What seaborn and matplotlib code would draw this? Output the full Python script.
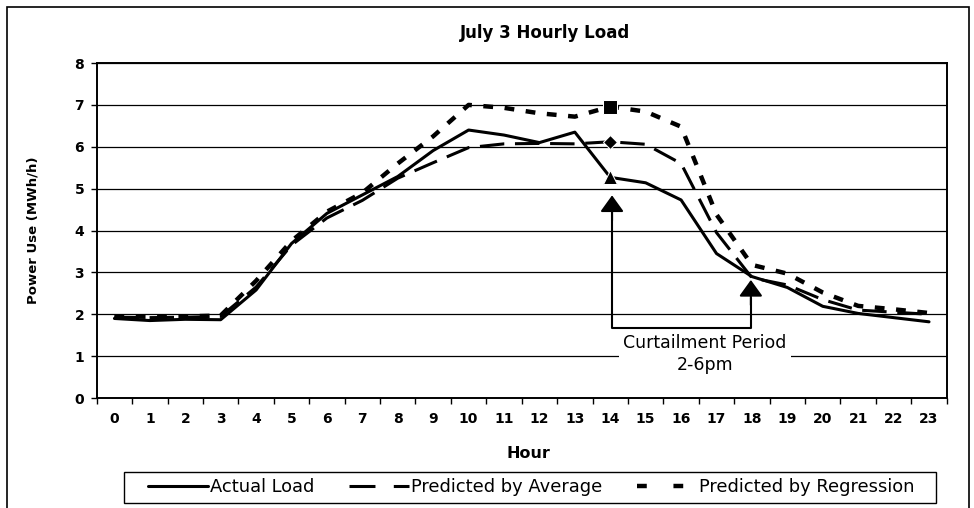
import numpy as np
import matplotlib
matplotlib.use("Agg")
import matplotlib.pyplot as plt
import seaborn as sns
from matplotlib.lines import Line2D
from matplotlib.patches import Rectangle

# hourly load, MWh/h
hours = list(range(24))
actual = [1.90, 1.85, 1.88, 1.87, 2.58, 3.69, 4.41, 4.85, 5.29, 5.91, 6.40, 6.28,
          6.10, 6.35, 5.27, 5.14, 4.73, 3.45, 2.90, 2.64, 2.19, 2.02, 1.92, 1.82]
average = [1.93, 1.92, 1.93, 1.95, 2.65, 3.65, 4.30, 4.72, 5.25, 5.62, 5.98, 6.07,
           6.08, 6.07, 6.12, 6.06, 5.60, 3.95, 2.87, 2.70, 2.35, 2.10, 2.05, 2.00]
regression = [1.95, 1.94, 1.95, 1.97, 2.80, 3.75, 4.45, 4.90, 5.60, 6.25, 7.00, 6.93,
              6.80, 6.72, 6.96, 6.84, 6.48, 4.38, 3.18, 2.97, 2.52, 2.20, 2.12, 2.03]
series_names = ["Actual Load", "Predicted by Average", "Predicted by Regression"]
hour_labels = [str(h) for h in hours]
y_ticks = list(range(9))

sns.set_theme(style="white")
plt.rcParams["font.family"] = ["DejaVu Sans"]
plt.rcParams["text.color"] = "black"
plt.rcParams["xtick.color"] = "black"
plt.rcParams["ytick.color"] = "black"
plt.rcParams["axes.labelcolor"] = "black"

fig = plt.figure(figsize=(9.74, 5.08), dpi=100)
ax = fig.add_axes([0.0993, 0.2165, 0.8727, 0.6594])

# ------------------ lines ------------------
sns.lineplot(x=hours, y=actual, ax=ax, color="black", lw=2.2,
             marker="^", markevery=[14], markersize=10, zorder=4)
sns.lineplot(x=hours, y=average, ax=ax, color="black", lw=2.2,
             marker="D", markevery=[14], markersize=7, zorder=4)
ax.lines[-1].set_dashes((8, 3.5))
sns.lineplot(x=hours, y=regression, ax=ax, color="black", lw=3.2,
             marker="s", markevery=[14], markersize=10, zorder=4)
ax.lines[-1].set_dashes((2.2, 2.6))

# ------------------ axes ------------------
ax.set_xlim(-0.5, 23.5)
ax.set_ylim(0, 8)
ax.set_xlabel("")
ax.set_ylabel("")
ax.set_yticks(y_ticks)
ax.set_yticklabels([str(v) for v in y_ticks], fontsize=10, fontweight="bold")
ax.yaxis.grid(True, color="black", lw=0.9)
ax.xaxis.grid(False)
ax.set_xticks(np.arange(-0.5, 24, 1))
ax.set_xticklabels([])
ax.set_xticks(hours, minor=True)
ax.set_xticklabels(hour_labels, minor=True, fontsize=10, fontweight="bold")
ax.tick_params(axis="x", which="major", direction="out", length=4, width=1,
               color="black", bottom=True)
ax.tick_params(axis="x", which="minor", length=0, pad=10)
ax.tick_params(axis="y", direction="out", length=4, width=1, color="black",
               left=True, pad=5)
for s in ax.spines.values():
    s.set_color("black")
    s.set_linewidth(1.4)

# ------------------ curtailment annotation ------------------
ax.plot([14.05, 14.05, 17.97, 17.97], [4.5, 1.68, 1.68, 2.4],
        color="black", lw=1.5, zorder=5)
for xa, ya in [(14.05, 4.84), (17.97, 2.82)]:
    ax.annotate("", xy=(xa, ya), xytext=(xa, ya - 0.6),
                arrowprops=dict(arrowstyle="-|>,head_length=0.5,head_width=0.36",
                                color="black", lw=1.5, mutation_scale=20,
                                shrinkA=0, shrinkB=0), zorder=5)
ax.text(16.68, 1.05, "Curtailment Period\n2-6pm", ha="center", va="center",
        fontsize=12.5, linespacing=1.25, zorder=3,
        bbox=dict(fc="white", ec="none", pad=3))

# ------------------ titles ------------------
fig.text(545 / 974, 1 - 33 / 508, "July 3 Hourly Load", ha="center", va="center",
         fontsize=12, fontweight="bold")
fig.text(528 / 974, 1 - 453 / 508, "Hour", ha="center", va="center",
         fontsize=11.5, fontweight="bold")
fig.text(33 / 974, 1 - 230 / 508, "Power Use (MWh/h)", ha="center", va="center",
         rotation=90, fontsize=9.5, fontweight="bold")

# ------------------ legend ------------------
handles = [
    Line2D([], [], color="black", lw=2.2),
    Line2D([], [], color="black", lw=2.2, dashes=(8.5, 6)),
    Line2D([], [], color="black", lw=3.2, dashes=(2.2, 6)),
]
leg = fig.legend(handles, series_names, ncol=3, loc="center",
                 bbox_to_anchor=(531 / 974, 1 - 487.5 / 508),
                 fontsize=12.9, handlelength=3.35, handletextpad=0.1,
                 columnspacing=1.95, frameon=False,
                 borderaxespad=0, borderpad=0.25)
# legend box drawn separately, wider than the entries
fig.patches.append(Rectangle((124 / 974, 1 - 503 / 508), 812 / 974, 31 / 508,
                             transform=fig.transFigure, fill=False,
                             ec="black", lw=1.0))

# outer chart border
fig.patches.append(Rectangle((7 / 974, -0.01), 962 / 974, 1.01 - 7 / 508,
                             transform=fig.transFigure, fill=False,
                             ec="black", lw=1.2))

fig.savefig("out.png", dpi=100)
plt.close(fig)
